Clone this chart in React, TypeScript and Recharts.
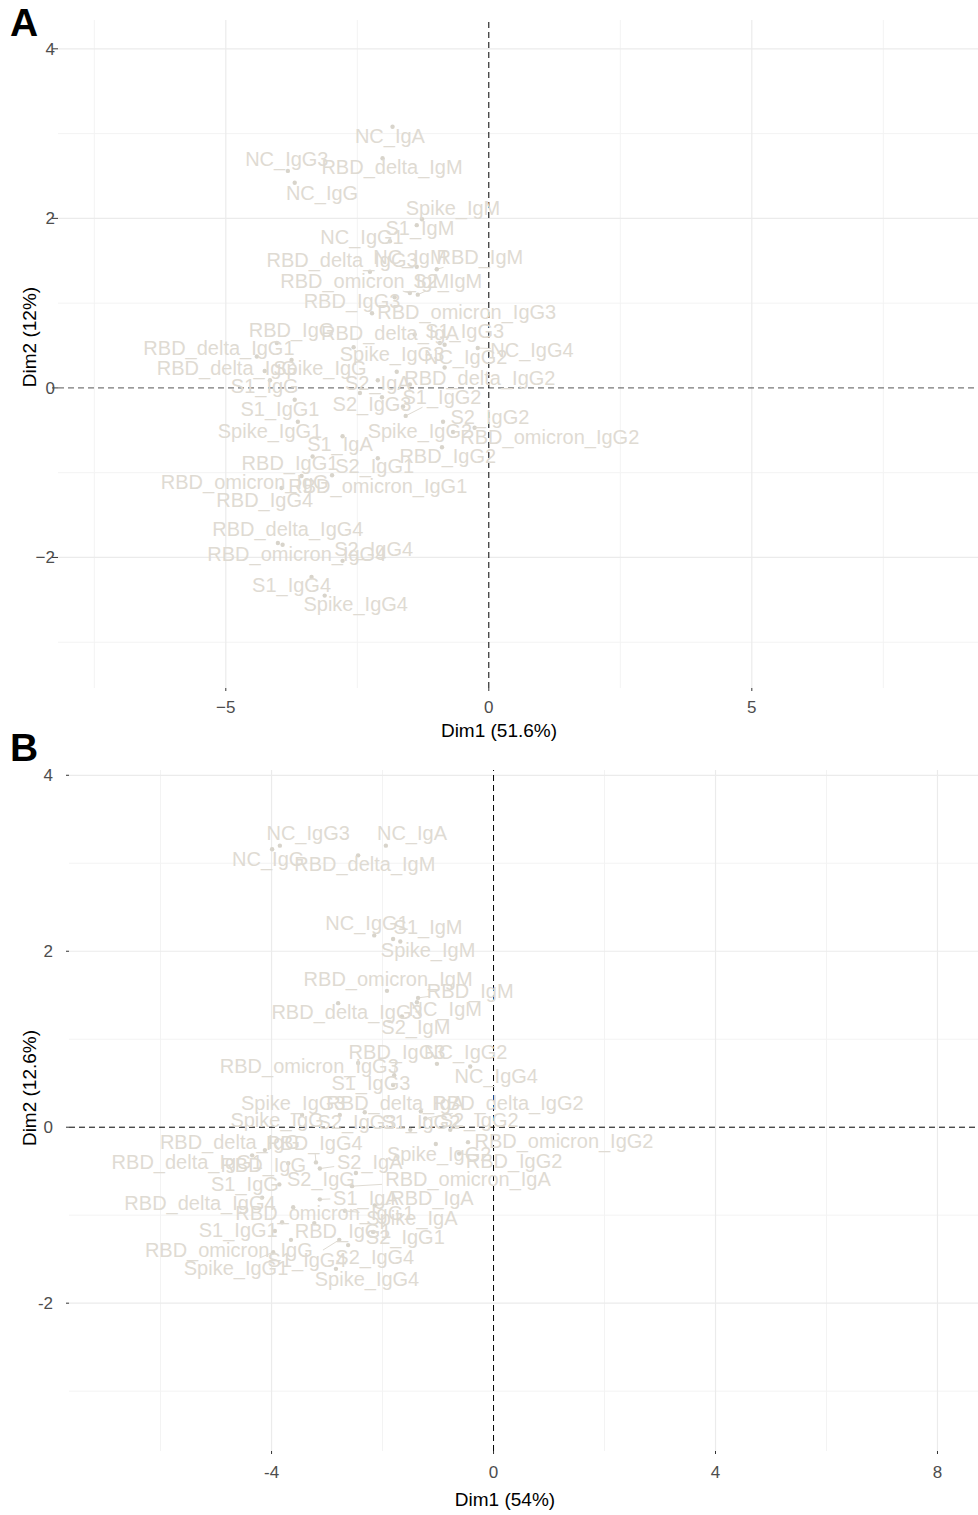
import React from "react";
import { ScatterChart, Scatter, XAxis, YAxis, ReferenceLine } from "recharts";

// ---- Panel A: PCA variable coordinates (Dim1 51.6%, Dim2 12%) ----
const namesA = [
  "NC_IgA", "NC_IgG3", "RBD_delta_IgM", "NC_IgG", "Spike_IgM", "S1_IgM", "NC_IgG1", "NC_IgM", "RBD_IgM", "RBD_delta_IgG3",
  "RBD_omicron_IgM", "S2_IgM", "RBD_IgG3", "RBD_omicron_IgG3", "RBD_IgG", "RBD_delta_IgA", "S1_IgG3", "RBD_delta_IgG1", "Spike_IgG3", "NC_IgG2",
  "NC_IgG4", "RBD_delta_IgG", "Spike_IgG", "RBD_delta_IgG2", "S1_IgG", "S2_IgA", "S1_IgG1", "S2_IgG3", "S1_IgG2", "S2_IgG2",
  "Spike_IgG1", "Spike_IgG2", "RBD_omicron_IgG2", "S1_IgA", "RBD_IgG2", "RBD_IgG1", "S2_IgG1", "RBD_omicron_IgG", "RBD_omicron_IgG1", "RBD_IgG4",
  "RBD_delta_IgG4", "RBD_omicron_IgG4", "S2_IgG4", "S1_IgG4", "Spike_IgG4", "RBD_IgA", "RBD_omicron_IgA", "S2_IgG", "Spike_IgA",
];
const dim1A = [
  -1.83, -3.82, -2.02, -3.69, -1.27, -1.37, -1.88, -1.37, -0.99, -2.26,
  -1.50, -1.35, -1.79, -2.22, -4.03, -1.41, -0.93, -4.41, -2.57, -0.84,
  -0.21, -4.26, -3.75, -0.84, -4.16, -2.11, -3.69, -2.03, -1.58, -0.87,
  -3.63, -0.68, -0.27, -2.78, -0.89, -3.35, -2.11, -3.56, -2.98, -3.94,
  -4.01, -3.92, -2.78, -3.37, -3.12, -1.50, -1.75, -1.63, -2.45,
];
const dim2A = [
  3.08, 2.56, 2.71, 2.42, 1.99, 1.92, 1.73, 1.43, 1.40, 1.37,
  1.12, 1.10, 1.07, 0.88, 0.53, 0.63, 0.53, 0.37, 0.48, 0.51,
  0.47, 0.20, 0.33, 0.24, 0.09, 0.09, -0.14, -0.11, -0.33, -0.40,
  -0.40, -0.52, -0.47, -0.57, -0.70, -0.81, -0.83, -1.04, -1.03, -1.18,
  -1.83, -1.85, -2.04, -2.23, -2.45, 0.04, 0.19, -0.22, -0.06,
];
// repelled label anchors (null = label dropped)
const labX_A = [
  -1.88, -3.84, -1.84, -3.17, -0.68, -1.31, -2.41, -1.50, -0.17, -2.79,
  -2.36, -0.78, -2.60, -0.42, -3.75, -1.88, -0.46, -5.13, -1.84, -0.44,
  0.82, -4.98, -3.21, -0.17, -4.26, -2.11, -3.97, -2.22, -0.89, 0.02,
  -4.16, -1.31, 1.16, -2.83, -0.78, -3.78, -2.17, -4.64, -2.11, -4.26,
  -3.82, -3.65, -2.19, -3.75, -2.53, null, null, null, null,
];
const labY_A = [
  2.97, 2.70, 2.61, 2.30, 2.12, 1.89, 1.78, 1.54, 1.54, 1.51,
  1.26, 1.26, 1.03, 0.90, 0.68, 0.65, 0.67, 0.47, 0.40, 0.37,
  0.45, 0.24, 0.24, 0.12, 0.02, 0.06, -0.25, -0.19, -0.11, -0.34,
  -0.51, -0.51, -0.58, -0.66, -0.80, -0.88, -0.92, -1.11, -1.16, -1.32,
  -1.67, -1.96, -1.90, -2.33, -2.55, null, null, null, null,
];

// ---- Panel B: PCA variable coordinates (Dim1 54%, Dim2 12.6%) ----
const namesB = [
  "NC_IgG3", "NC_IgA", "NC_IgG", "RBD_delta_IgM", "NC_IgG1", "S1_IgM", "Spike_IgM", "RBD_omicron_IgM", "RBD_IgM", "RBD_delta_IgG3",
  "NC_IgM", "S2_IgM", "RBD_IgG3", "NC_IgG2", "RBD_omicron_IgG3", "NC_IgG4", "S1_IgG3", "Spike_IgG3", "RBD_delta_IgA", "RBD_delta_IgG2",
  "Spike_IgG", "S2_IgG3", "S1_IgG2", "S2_IgG2", "RBD_delta_IgG", "RBD_IgG4", "RBD_delta_IgG1", "RBD_IgG", "S2_IgA", "Spike_IgG2",
  "RBD_omicron_IgG2", "RBD_IgG2", "S2_IgG", "RBD_omicron_IgA", "S1_IgG", "S1_IgA", "RBD_IgA", "RBD_delta_IgG4", "RBD_omicron_IgG1", "Spike_IgA",
  "S1_IgG1", "RBD_IgG1", "S2_IgG1", "RBD_omicron_IgG", "S2_IgG4", "S1_IgG4", "Spike_IgG1", "Spike_IgG4", "RBD_omicron_IgG4",
];
const dim1B = [
  -3.85, -1.94, -3.99, -2.44, -2.15, -1.81, -1.68, -1.92, -1.36, -2.80,
  -1.38, -1.65, -1.79, -1.02, -2.44, -0.42, -1.81, -2.77, -1.31, -1.23,
  -3.45, -2.32, -1.50, -0.78, -4.12, -3.20, -4.35, -3.70, -3.13, -1.04,
  -0.46, -0.62, -2.48, -2.55, -3.86, -3.13, -2.14, -4.17, -3.61, -2.68,
  -3.94, -3.23, -2.17, -3.65, -2.62, -2.78, -3.97, -2.84, -3.81,
];
const dim2B = [
  3.20, 3.20, 3.16, 3.09, 2.18, 2.14, 2.11, 1.55, 1.47, 1.41,
  1.42, 1.26, 0.59, 0.72, 0.73, 0.69, 0.48, 0.14, 0.18, 0.10,
  0.14, 0.17, -0.03, -0.03, -0.26, -0.40, -0.32, -0.41, -0.47, -0.19,
  -0.17, -0.30, -0.52, -0.67, -0.65, -0.82, -0.89, -0.80, -0.91, -0.95,
  -1.18, -1.09, -1.19, -1.28, -1.34, -1.28, -1.42, -1.61, -1.08,
];
const labX_B = [
  -3.34, -1.47, -4.06, -2.32, -2.28, -1.18, -1.18, -1.90, -0.42, -2.64,
  -0.87, -1.40, -1.74, -0.50, -3.32, 0.05, -2.21, -3.61, -1.77, 0.26,
  -3.90, -2.46, -1.31, -0.26, -4.75, -3.23, -5.52, -4.15, -2.23, -0.98,
  1.27, 0.37, -3.11, -0.46, -4.48, -2.30, -1.11, -5.29, -3.04, -1.47,
  -4.60, -2.71, -1.59, -4.77, -2.14, -3.36, -4.64, -2.28, null,
];
const labY_B = [
  3.34, 3.34, 3.05, 2.99, 2.32, 2.27, 2.01, 1.69, 1.55, 1.31,
  1.34, 1.14, 0.86, 0.85, 0.70, 0.58, 0.50, 0.27, 0.27, 0.27,
  0.08, 0.06, 0.06, 0.08, -0.17, -0.18, -0.39, -0.43, -0.39, -0.30,
  -0.16, -0.38, -0.59, -0.59, -0.65, -0.80, -0.81, -0.86, -0.97, -1.03,
  -1.17, -1.18, -1.25, -1.39, -1.48, -1.51, -1.60, -1.72, null,
];

const FONT = "'Liberation Sans', Arial, Helvetica, sans-serif";
const LABEL_COLOR = "#dfdbd3";
const DOT_COLOR = "#d8d4cb";

type PanelProps = {
  names: string[];
  d1: number[];
  d2: number[];
  lx: (number | null)[];
  ly: (number | null)[];
  xDomain: [number, number];
  yDomain: [number, number];
  xTicks: number[];
  yTicks: number[];
  xMinor: number[];
  yMinor: number[];
  minus: string;
  yAxisWidth: number;
  yTickSize: number;
  yTickMargin: number;
  xTickMargin: number;
  xAxisHeight: number;
  width: number;
  height: number;
  hLineColor: string;
};

function Panel(p: PanelProps) {
  const plotW = p.width - p.yAxisWidth;
  const plotH = p.height - 20 - p.xAxisHeight;
  const kx = plotW / (p.xDomain[1] - p.xDomain[0]);
  const ky = plotH / (p.yDomain[1] - p.yDomain[0]);

  const points = p.names.map((name, i) => ({ name, x: p.d1[i], y: p.d2[i] }));
  const labels = p.names
    .map((name, i) => ({ name, x: p.lx[i], y: p.ly[i], px: p.d1[i], py: p.d2[i] }))
    .filter((l) => l.x !== null && l.y !== null) as { name: string; x: number; y: number; px: number; py: number }[];

  // segment from point to the edge of its label box
  const segments = labels
    .map((l) => {
      const dxp = (l.px - l.x) * kx;
      const dyp = (l.py - l.y) * ky;
      const hw = l.name.length * 5.6 + 2;
      const hh = 10;
      if (Math.abs(dxp) <= hw && Math.abs(dyp) <= hh) return null;
      const t = Math.min(dxp === 0 ? Infinity : hw / Math.abs(dxp), dyp === 0 ? Infinity : hh / Math.abs(dyp));
      const dist = Math.hypot(dxp, dyp);
      if ((1 - t) * dist < 7) return null;
      return {
        key: l.name,
        a: { x: l.px, y: l.py },
        b: { x: l.x + t * (l.px - l.x), y: l.y + t * (l.py - l.y) },
      };
    })
    .filter(Boolean) as { key: string; a: { x: number; y: number }; b: { x: number; y: number } }[];

  const fmt = (v: number) => (v < 0 ? p.minus + Math.abs(v) : String(v));

  return (
    <ScatterChart
      width={p.width}
      height={p.height}
      margin={{ top: 20, right: 0, bottom: 0, left: 0 }}
      style={{ fontFamily: FONT }}
    >
      <XAxis
        type="number"
        dataKey="x"
        domain={p.xDomain}
        ticks={p.xTicks}
        allowDataOverflow
        axisLine={false}
        tickLine={{ stroke: "#333333" }}
        tickSize={3}
        tickMargin={p.xTickMargin}
        height={p.xAxisHeight}
        tickFormatter={fmt}
        tick={{ fill: "#4d4d4d", fontSize: 17 }}
      />
      <YAxis
        type="number"
        dataKey="y"
        domain={p.yDomain}
        ticks={p.yTicks}
        allowDataOverflow
        axisLine={false}
        tickLine={{ stroke: "#333333" }}
        tickSize={p.yTickSize}
        tickMargin={p.yTickMargin}
        width={p.yAxisWidth}
        tickFormatter={fmt}
        tick={{ fill: "#4d4d4d", fontSize: 17 }}
      />
      {p.xMinor.map((v) => (
        <ReferenceLine key={"xm" + v} x={v} stroke="#f3f3f3" strokeWidth={1} />
      ))}
      {p.yMinor.map((v) => (
        <ReferenceLine key={"ym" + v} y={v} stroke="#f3f3f3" strokeWidth={1} />
      ))}
      {p.xTicks.filter((v) => v !== 0).map((v) => (
        <ReferenceLine key={"xg" + v} x={v} stroke="#ebebeb" strokeWidth={1.2} />
      ))}
      {p.yTicks.filter((v) => v !== 0).map((v) => (
        <ReferenceLine key={"yg" + v} y={v} stroke="#ebebeb" strokeWidth={1.2} />
      ))}
      {segments.map((s) => (
        <ReferenceLine key={"sg" + s.key} segment={[s.a, s.b]} stroke={LABEL_COLOR} strokeWidth={1} ifOverflow="extendDomain" />
      ))}
      <Scatter
        data={points}
        isAnimationActive={false}
        shape={(props: any) => <circle cx={props.cx} cy={props.cy} r={2.2} fill={DOT_COLOR} />}
      />
      <Scatter
        data={labels}
        isAnimationActive={false}
        shape={(props: any) => (
          <text
            x={props.cx}
            y={props.cy}
            textAnchor="middle"
            dominantBaseline="central"
            fontSize={20}
            fill={LABEL_COLOR}
            fontFamily={FONT}
          >
            {props.payload.name}
          </text>
        )}
      />
      <ReferenceLine y={0} stroke={p.hLineColor} strokeDasharray="6 4" strokeWidth={1} />
      <ReferenceLine x={0} stroke="#000000" strokeDasharray="6 4" strokeWidth={1} />
    </ScatterChart>
  );
}

const titleStyle: React.CSSProperties = {
  position: "absolute",
  fontFamily: FONT,
  fontSize: 19,
  color: "#000",
  whiteSpace: "nowrap",
  transform: "translate(-50%, -50%)",
};
const letterStyle: React.CSSProperties = {
  position: "absolute",
  fontFamily: FONT,
  fontSize: 39,
  fontWeight: 700,
  color: "#000",
  lineHeight: 1,
};

export default function App() {
  return (
    <div style={{ position: "absolute", left: 0, top: 0, width: 978, height: 1515, background: "#fff", overflow: "hidden" }}>
      <div style={{ position: "absolute", left: 0, top: 0 }}>
        <Panel
          names={namesA}
          d1={dim1A}
          d2={dim2A}
          lx={labX_A}
          ly={labY_A}
          xDomain={[-8.19, 9.3]}
          yDomain={[-3.54, 4.34]}
          xTicks={[-5, 0, 5]}
          yTicks={[-2, 0, 2, 4]}
          xMinor={[-7.5, -2.5, 2.5, 7.5]}
          yMinor={[-3, -1, 1, 3]}
          minus={"\u2212"}
          yAxisWidth={58}
          yTickSize={6}
          yTickMargin={-3}
          xTickMargin={10}
          xAxisHeight={62}
          width={978}
          height={750}
          hLineColor="#555555"
        />
      </div>
      <div style={{ position: "absolute", left: 0, top: 750 }}>
        <Panel
          names={namesB}
          d1={dim1B}
          d2={dim2B}
          lx={labX_B}
          ly={labY_B}
          xDomain={[-7.65, 8.73]}
          yDomain={[-3.68, 4.06]}
          xTicks={[-4, 0, 4, 8]}
          yTicks={[-2, 0, 2, 4]}
          xMinor={[-6, -2, 2, 6]}
          yMinor={[-3, -1, 1, 3]}
          minus="-"
          yAxisWidth={69}
          yTickSize={3}
          yTickMargin={13}
          xTickMargin={12}
          xAxisHeight={64}
          width={978}
          height={765}
          hLineColor="#000000"
        />
      </div>
      <div style={{ ...letterStyle, left: 10, top: 3 }}>A</div>
      <div style={{ ...letterStyle, left: 10, top: 728 }}>B</div>
      <div style={{ ...titleStyle, left: 499, top: 731 }}>Dim1 (51.6%)</div>
      <div style={{ ...titleStyle, left: 505, top: 1500 }}>Dim1 (54%)</div>
      <div style={{ ...titleStyle, left: 30, top: 337, transform: "translate(-50%, -50%) rotate(-90deg)" }}>Dim2 (12%)</div>
      <div style={{ ...titleStyle, left: 30, top: 1088, transform: "translate(-50%, -50%) rotate(-90deg)" }}>Dim2 (12.6%)</div>
    </div>
  );
}
